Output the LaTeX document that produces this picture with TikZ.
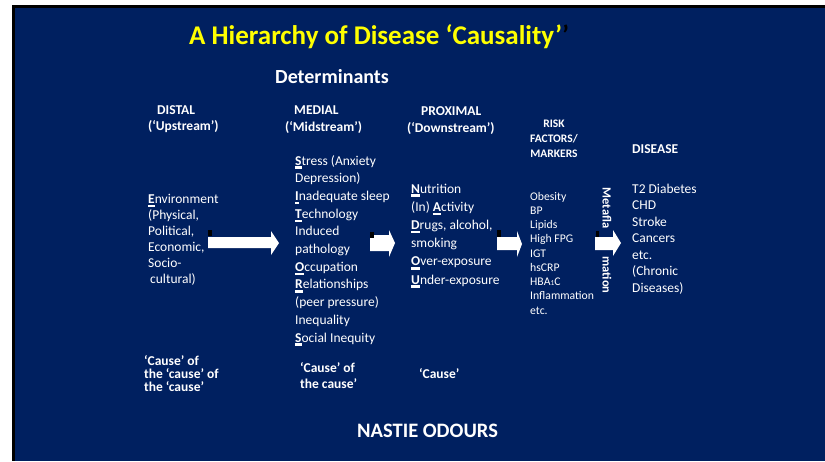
\documentclass[tikz,border=0pt]{standalone}
\usepackage{fontspec}
\setmainfont{Carlito}
\usetikzlibrary{positioning}

\definecolor{slideblue}{RGB}{0,32,96}
\definecolor{titleyellow}{RGB}{255,255,0}

% bold first letter with a bar under it
\newsavebox{\ulbox}
\newcommand{\ulett}[1]{\sbox{\ulbox}{\bfseries #1}\rlap{\rule[-3.8pt]{\wd\ulbox}{2.4pt}}\usebox{\ulbox}}

\begin{document}
\begin{tikzpicture}[x=1pt,y=-1pt,
    every node/.style={text=white,inner sep=0pt,anchor=base west},
    head/.style={font=\bfseries\fontsize{13.5}{15}\selectfont},
    body/.style={align=left,font=\fontsize{13.5}{#1}\selectfont},
    cause/.style={align=left,font=\bfseries\fontsize{13.5}{#1}\selectfont}]
    % slide
    \fill[white] (0,0) rectangle (825,461);
    \fill[black] (12,5) rectangle (825,461);
    \fill[slideblue] (15,8) rectangle (825,461);
    \useasboundingbox (0,0) rectangle (825,461);

    % titles
    \node[text=titleyellow,font=\bfseries\fontsize{27}{30}\selectfont] (title) at (189,44)
        {A Hierarchy of Disease ‘Causality’\textcolor{black}{’}};
    \node[font=\bfseries\fontsize{20}{24}\selectfont] (determ) at (275,83) {Determinants};

    % column heads (multi-line nodes sit on their last line)
    \node[head] (distal) at (157,114) {DISTAL};
    \node[head] (upstream) at (148,130.5) {(‘Upstream’)};
    \node[head] (medial) at (294,114) {MEDIAL};
    \node[head] (midstream) at (285,131) {(‘Midstream’)};
    \node[head] (proximal) at (421,115) {PROXIMAL};
    \node[head] (downstream) at (407,132) {(‘Downstream’)};
    \node[align=center,font=\bfseries\fontsize{11.5}{15}\selectfont] (risk) at (530,157)
        {RISK\\ FACTORS/\\ MARKERS};
    \node[head] (disease) at (632,153) {DISEASE};

    % column bodies
    \node[body=16] (envir) at (148,283.5)
        {\ulett{E}nvironment\\ (Physical,\\ Political,\\ Economic,\\ Socio-\\ \hspace{2pt}cultural)};
    \node[body=17.7] (stress) at (295,342)
        {\ulett{S}tress (Anxiety\\ Depression)\\ \ulett{I}nadequate sleep\\ \ulett{T}echnology\\
         Induced\\ pathology\\ \ulett{O}ccupation\\ \ulett{R}elationships\\ (peer pressure)\\
         Inequality\\ \ulett{S}ocial Inequity};
    \node[body=18.2] (nutrition) at (411,284)
        {\ulett{N}utrition\\ (In) \ulett{A}ctivity\\ \ulett{D}rugs, alcohol,\\ smoking\\
         \ulett{O}ver-exposure\\ \ulett{U}nder-exposure};
    \node[align=left,font=\fontsize{11.7}{14.25}\selectfont] (markers) at (530,314)
        {Obesity\\ BP\\ Lipids\\ High FPG\\ IGT\\ hsCRP\\ HBA{\fontsize{7.5}{7.5}\selectfont 1}C\\
         Inflammation\\ etc.};
    \node[body=16.5] (chronic) at (632,292)
        {T2 Diabetes\\ CHD\\ Stroke\\ Cancers\\ etc.\\ (Chronic\\ Diseases)};

    % arrows
    \fill[white] (208,237) -- (271,237) -- (271,231) -- (279,243) -- (271,255) -- (271,248) -- (208,248) -- cycle;
    \fill[white] (370,235) -- (389,235) -- (389,230) -- (395,243) -- (389,257) -- (389,251) -- (370,251) -- cycle;
    \fill[white] (497,237) -- (517,237) -- (517,231) -- (522,244) -- (517,257) -- (517,250) -- (497,250) -- cycle;
    \fill[white] (595,237) -- (613,237) -- (613,230) -- (621,243) -- (613,256) -- (613,250) -- (595,250) -- cycle;
    \fill[black] (208,230) rectangle (212,236);
    \fill[black] (370,232) rectangle (374,238);
    \fill[black] (497,230) rectangle (501,237);
    \fill[black] (596,231) rectangle (599,237);

    % metaflammation
    \node[anchor=center,rotate=-90,font=\bfseries\fontsize{12.5}{14}\selectfont] (meta) at (607,208) {Metafla};
    \node[anchor=center,rotate=-90,font=\bfseries\fontsize{12.5}{14}\selectfont] (mation) at (607,275) {mation};

    % causes
    \node[cause=13] (cause1) at (144,391) {‘Cause’ of\\ the ‘cause’ of\\ the ‘cause’};
    \node[cause=16] (cause2) at (300,388) {‘Cause’ of\\ the cause’};
    \node[cause=13] (cause3) at (419,378) {‘Cause’};

    \node[font=\bfseries\fontsize{20.5}{24}\selectfont] (nastie) at (357,437) {NASTIE ODOURS};
\end{tikzpicture}
\end{document}
